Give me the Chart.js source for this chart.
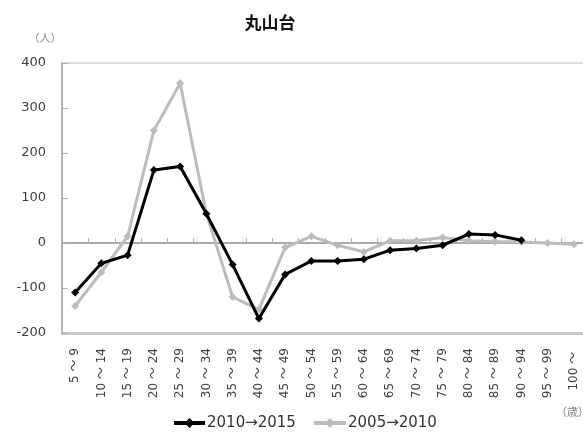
<!DOCTYPE html>
<html>
<head>
<meta charset="utf-8">
<script src="https://cdn.jsdelivr.net/npm/chart.js@4.4.1/dist/chart.umd.min.js"></script>
<style>
html,body{margin:0;padding:0;background:#fff;overflow:hidden;}
#wrap{width:583px;height:435px;position:relative;overflow:hidden;}
</style>
</head>
<body>
<div id="wrap"><canvas id="c" width="591" height="435"></canvas></div>
<script>
const categories = ["5〜9","10〜14","15〜19","20〜24","25〜29","30〜34","35〜39","40〜44","45〜49","50〜54","55〜59","60〜64","65〜69","70〜74","75〜79","80〜84","85〜89","90〜94","95〜99","100〜"];
const series2010_2015 = [-110,-45,-27,162,170,65,-48,-168,-70,-40,-40,-36,-16,-12,-5,20,18,6,null,null];
const series2005_2010 = [-140,-65,15,250,355,65,-120,-148,-10,15,-5,-20,5,5,12,5,3,2,0,-3];
const seriesNames = ["2010→2015","2005→2010"];
const yTicks = [-200,-100,0,100,200,300,400];
const titleText = "丸山台";
const yUnit = "（人）";
const xUnit = "（歳）";

const COL_BLACK = "#000000";
const COL_GRAY = "#bcbcbc";
const JP = "'Noto Sans CJK JP', 'DejaVu Sans', sans-serif";
const NUM = "'DejaVu Sans', 'Noto Sans CJK JP', sans-serif";

const decor = {
  id: 'decor',
  beforeDatasetsDraw(chart) {
    const {ctx, chartArea: a, scales: {x, y}} = chart;
    ctx.save();
    ctx.strokeStyle = '#dcdcdc';
    ctx.lineWidth = 2;
    ctx.beginPath(); ctx.moveTo(a.left, a.top); ctx.lineTo(a.right, a.top); ctx.stroke();
    const y0 = y.getPixelForValue(0);
    ctx.strokeStyle = '#aaaaaa';
    ctx.lineWidth = 2;
    ctx.beginPath(); ctx.moveTo(a.left, y0); ctx.lineTo(a.right, y0); ctx.stroke();
    const half = (x.getPixelForValue(1) - x.getPixelForValue(0)) / 2;
    ctx.lineWidth = 1;
    ctx.strokeStyle = '#b0b0b0';
    for (let i = 1; i < categories.length; i++) {
      const bx = Math.round(x.getPixelForValue(i) - half) + 0.5;
      ctx.beginPath(); ctx.moveTo(bx, y0); ctx.lineTo(bx, y0 - 5); ctx.stroke();
    }
    yTicks.forEach(v => {
      const py = Math.round(y.getPixelForValue(v)) + 0.5;
      ctx.beginPath(); ctx.moveTo(a.left, py); ctx.lineTo(a.left + 6, py); ctx.stroke();
    });
    ctx.restore();
  },
  afterDraw(chart) {
    const {ctx} = chart;
    ctx.save();
    ctx.fillStyle = '#111';
    ctx.font = "bold 17px " + JP;
    ctx.textAlign = 'center';
    ctx.textBaseline = 'middle';
    ctx.fillText(titleText, 270, 23);
    ctx.fillStyle = '#8a8a8a';
    ctx.font = "11px " + JP;
    ctx.fillText(yUnit, 45, 38);
    ctx.textAlign = 'left';
    ctx.fillText(xUnit, 556, 412);
    const items = [
      {name: seriesNames[0], color: COL_BLACK, x0: 174, x1: 205, tx: 207},
      {name: seriesNames[1], color: COL_GRAY, x0: 314, x1: 346, tx: 348}
    ];
    const ly = 423;
    items.forEach(it => {
      ctx.strokeStyle = it.color;
      ctx.lineWidth = 4;
      ctx.beginPath(); ctx.moveTo(it.x0, ly); ctx.lineTo(it.x1, ly); ctx.stroke();
      ctx.fillStyle = it.color;
      const cx = (it.x0 + it.x1) / 2;
      ctx.beginPath();
      ctx.moveTo(cx, ly - 5); ctx.lineTo(cx + 5, ly); ctx.lineTo(cx, ly + 5); ctx.lineTo(cx - 5, ly);
      ctx.closePath(); ctx.fill();
      ctx.fillStyle = '#333';
      ctx.font = "15px " + NUM;
      ctx.textAlign = 'left';
      ctx.textBaseline = 'middle';
      ctx.fillText(it.name, it.tx, ly);
    });
    ctx.restore();
  }
};

new Chart(document.getElementById('c'), {
  type: 'line',
  data: {
    labels: categories,
    datasets: [
      {
        label: seriesNames[0],
        data: series2010_2015,
        borderColor: COL_BLACK,
        backgroundColor: COL_BLACK,
        borderWidth: 3,
        pointStyle: 'rectRot',
        pointRadius: 4,
        pointBorderWidth: 0,
        tension: 0,
        spanGaps: false
      },
      {
        label: seriesNames[1],
        data: series2005_2010,
        borderColor: COL_GRAY,
        backgroundColor: COL_GRAY,
        borderWidth: 3,
        pointStyle: 'rectRot',
        pointRadius: 4,
        pointBorderWidth: 0,
        tension: 0
      }
    ]
  },
  options: {
    responsive: false,
    animation: false,
    layout: {padding: {left: 0, right: 0, top: 63, bottom: 32}},
    plugins: {
      legend: {display: false},
      title: {display: false},
      tooltip: {enabled: false}
    },
    scales: {
      x: {
        type: 'category',
        offset: true,
        grid: {display: false, drawTicks: false},
        border: {display: true, color: '#c8c8c8', width: 3},
        ticks: {
          minRotation: 90, maxRotation: 90, autoSkip: false,
          padding: 15,
          color: '#404040',
          font: {size: 12, family: NUM},
          callback: function(v, i) { return categories[i].replace('〜', ' 〜 '); }
        },
        afterFit(s) { s.height = 70; s.paddingLeft = 0; s.paddingRight = 0; }
      },
      y: {
        min: -200, max: 400,
        afterBuildTicks(s) { s.ticks = yTicks.map(v => ({value: v})); },
        grid: {display: false, drawTicks: false},
        border: {display: true, color: '#b3b3b3', width: 2},
        ticks: {
          padding: 16,
          color: '#404040',
          font: {size: 13, family: NUM}
        },
        afterFit(s) { s.width = 62; }
      }
    }
  },
  plugins: [decor]
});
</script>
</body>
</html>
